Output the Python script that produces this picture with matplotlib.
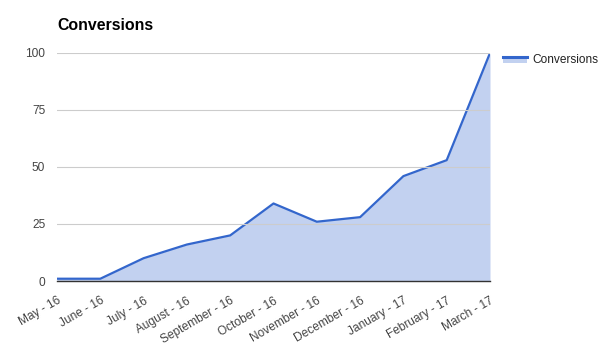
import matplotlib.pyplot as plt
from matplotlib.lines import Line2D
from matplotlib.patches import Rectangle
from matplotlib.legend_handler import HandlerBase

months = ["May - 16", "June - 16", "July - 16", "August - 16", "September - 16",
          "October - 16", "November - 16", "December - 16", "January - 17",
          "February - 17", "March - 17"]
conversions = [1, 1, 10, 16, 20, 34, 26, 28, 46, 53, 100]
y_ticks = [0, 25, 50, 75, 100]

LINE = "#3366cc"
FILL = "#c2d1f0"


class AreaHandler(HandlerBase):
    # line on top of a short filled block, like the area chart itself
    def create_artists(self, legend, orig_handle, xdescent, ydescent,
                       width, height, fontsize, trans):
        top = height * 0.75
        rect = Rectangle((-xdescent, -ydescent), width, top, facecolor=FILL,
                         edgecolor="none", transform=trans)
        line = Line2D([-xdescent, -xdescent + width], [top - ydescent] * 2,
                      color=LINE, lw=2.2, transform=trans)
        return [rect, line]


plt.rcParams["font.family"] = ["Liberation Sans", "DejaVu Sans"]

fig = plt.figure(figsize=(6.15, 3.62), dpi=100)
ax = fig.add_axes([57 / 615, 1 - 281 / 362, 433 / 615, 228 / 362])

x = list(range(len(months)))
ax.fill_between(x, conversions, 0, color=FILL, lw=0)
ax.plot(x, conversions, color=LINE, lw=1.6, solid_joinstyle="round")

ax.set_xlim(0, len(months) - 1)
ax.set_ylim(0, 100)
ax.set_yticks(y_ticks)
ax.set_xticks(x)
ax.set_xticklabels(months, rotation=30, ha="right", rotation_mode="anchor")
ax.tick_params(axis="both", length=0, labelsize=8.6, colors="#444444")
ax.tick_params(axis="y", pad=8.5)
ax.tick_params(axis="x", pad=10)

ax.grid(axis="y", color="#cccccc", lw=0.8)
ax.set_axisbelow(False)
for side in ["top", "right", "left"]:
    ax.spines[side].set_visible(False)
ax.spines["bottom"].set_color("#333333")
ax.spines["bottom"].set_linewidth(1.0)
ax.spines["bottom"].set_zorder(5)

fig.text(57 / 615, 1 - 25 / 362, "Conversions", fontsize=11.4, fontweight="bold",
         color="black", va="center", ha="left")

leg = fig.legend([object()], ["Conversions"],
                 handler_map={object: AreaHandler()},
                 loc="center left", bbox_to_anchor=(503 / 615, 1 - 60 / 362),
                 frameon=False, fontsize=8.6, handlelength=2.0, handletextpad=0.45,
                 borderaxespad=0, borderpad=0)
for t in leg.get_texts():
    t.set_color("#222222")

fig.savefig("out.png", dpi=100)
